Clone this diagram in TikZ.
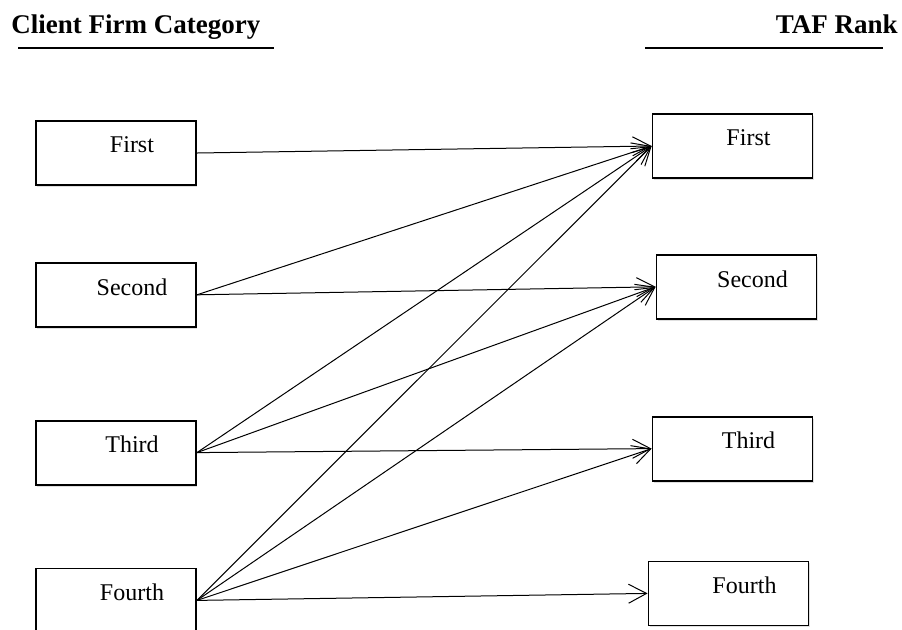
\documentclass[tikz,border=0pt]{standalone}
\usepackage{fontspec}
\setmainfont{Liberation Serif}
\usetikzlibrary{positioning,arrows.meta,shadows}
\tikzset{box/.style={draw,line width=0.9pt,minimum width=80pt,minimum height=32pt,inner sep=0pt,fill=white,
                     drop shadow={shadow xshift=0.6pt,shadow yshift=-1pt,opacity=0.25}},
         head/.style={font=\fontsize{13.5}{16}\selectfont\bfseries,inner sep=0pt},
         tag/.style={font=\fontsize{12}{14}\selectfont,inner sep=0pt,xshift=8pt,yshift=4pt},
         rule/.style={line width=0.7pt}
}
\tikzstyle{arrow} = [line width=0.5pt,->,>={Straight Barb[length=9pt,width=9.5pt]}]

\begin{document}
\begin{tikzpicture}

\useasboundingbox (0,0) rectangle (451pt,-314.5pt);

\node[head,anchor=base west] (chead) at (5.5pt,-16.5pt) {Client Firm Category};
\node[head,anchor=base east] (thead) at (449pt,-16.5pt) {TAF Rank};
\draw[rule] (9pt,-24pt)--(137pt,-24pt);
\draw[rule] (322.5pt,-24pt)--(441.5pt,-24pt);

\node[box,label={[tag]center:First}] (cfirst) at (58pt,-76.5pt) {};
\node[box,label={[tag]center:Second},below=38pt of cfirst] (csecond) {};
\node[box,label={[tag]center:Third},below=46pt of csecond] (cthird) {};
\node[box,label={[tag]center:Fourth},below=41pt of cthird] (cfourth) {};

\node[box,label={[tag]center:First}] (tfirst) at (366.25pt,-73pt) {};
\node[box,label={[tag]center:Second},below=37.5pt of tfirst,xshift=2pt] (tsecond) {};
\node[box,label={[tag]center:Third},below=48pt of tsecond,xshift=-2pt] (tthird) {};
\node[box,label={[tag]center:Fourth},below=39.5pt of tthird,xshift=-2pt] (tfourth) {};

\draw[arrow] (cfirst.east)--(tfirst.west);
\draw[arrow] (csecond.east)--(tfirst.west);
\draw[arrow] (csecond.east)--(tsecond.west);
\draw[arrow] (cthird.east)--(tfirst.west);
\draw[arrow] (cthird.east)--(tsecond.west);
\draw[arrow] (cthird.east)--(tthird.west);
\draw[arrow] (cfourth.east)--(tfirst.west);
\draw[arrow] (cfourth.east)--(tsecond.west);
\draw[arrow] (cfourth.east)--(tthird.west);
\draw[arrow] (cfourth.east)--(tfourth.west);

\end{tikzpicture}
\end{document}
